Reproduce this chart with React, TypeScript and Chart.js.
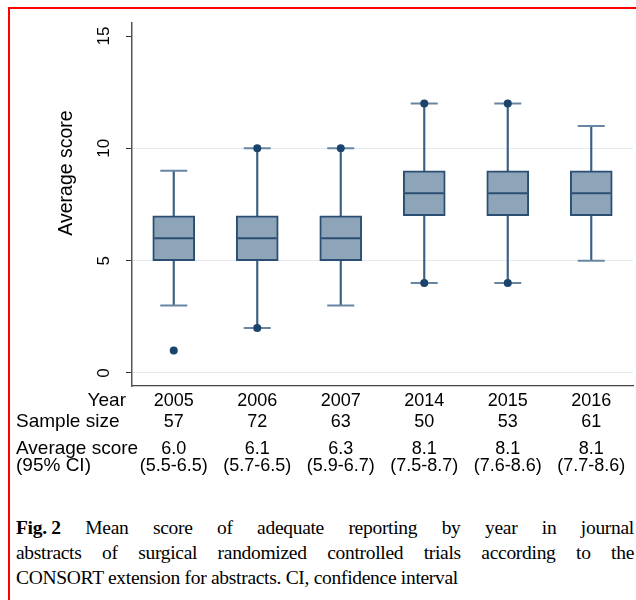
import React, { useEffect, useRef } from "react";
import { Chart, registerables } from "chart.js";

Chart.register(...registerables);

const years = ["2005", "2006", "2007", "2014", "2015", "2016"];
const whiskerLow = [3, 2, 3, 4, 4, 5];
const q1 = [5, 5, 5, 7, 7, 7];
const medians = [6, 6, 6, 8, 8, 8];
const q3 = [7, 7, 7, 9, 9, 9];
const whiskerHigh = [9, 10, 10, 12, 12, 11];
const outliersLow = [1, 2, null, 4, 4, null];
const outliersHigh = [null, 10, 10, 12, 12, null];
const sampleSizes = ["57", "72", "63", "50", "53", "61"];
const meanScores = ["6.0", "6.1", "6.3", "8.1", "8.1", "8.1"];
const ciLabels = ["(5.5-6.5)", "(5.7-6.5)", "(5.9-6.7)", "(7.5-8.7)", "(7.6-8.6)", "(7.7-8.6)"];
const yTicks = [0, 5, 10, 15];
const yTitle = "Average score";
const rowLabels = ["Year", "Sample size", "Average score", "(95% CI)"];

const SANS = '"Liberation Sans", Arial, sans-serif';

const textPlugin = {
  id: "textPlugin",
  afterDraw(chart: any) {
    const ctx = chart.ctx;
    const xs = chart.scales.x;
    const ys = chart.scales.y;
    ctx.save();
    ctx.fillStyle = "#000";
    ctx.font = `17px ${SANS}`;
    ctx.textAlign = "center";
    ctx.textBaseline = "middle";
    yTicks.forEach((v) => {
      const y = ys.getPixelForValue(v);
      ctx.save();
      ctx.translate(104, y);
      ctx.rotate(-Math.PI / 2);
      ctx.fillText(String(v), 0, 0);
      ctx.restore();
    });
    ctx.save();
    ctx.font = `19.5px ${SANS}`;
    ctx.translate(67, 173);
    ctx.rotate(-Math.PI / 2);
    ctx.fillText(yTitle, 0, 0);
    ctx.restore();
    ctx.font = `18px ${SANS}`;
    ctx.textAlign = "center";
    years.forEach((yr, i) => {
      const x = xs.getPixelForValue(i);
      ctx.fillText(yr, x, 401);
      ctx.fillText(sampleSizes[i], x, 422);
      ctx.fillText(meanScores[i], x, 449);
      ctx.fillText(ciLabels[i], x, 466);
    });
    ctx.font = `19px ${SANS}`;
    ctx.textAlign = "right";
    ctx.fillText(rowLabels[0], 126, 401);
    ctx.textAlign = "left";
    ctx.fillText(rowLabels[1], 16, 422);
    ctx.fillText(rowLabels[2], 16, 449);
    ctx.fillText(rowLabels[3], 16, 466);
    ctx.restore();
  },
};

function BoxChart() {
  const ref = useRef<HTMLCanvasElement>(null);
  useEffect(() => {
    if (!ref.current) return;
    const chart = new Chart(ref.current, {
      type: "bar",
      data: {
        labels: years,
        datasets: [
          {
            type: "bar",
            label: "whisker",
            data: years.map((_, i) => [whiskerLow[i], whiskerHigh[i]]) as any,
            backgroundColor: "#3a5f80",
            barThickness: 1.5,
            grouped: false,
            borderWidth: 0,
            order: 5,
          } as any,
          {
            type: "bar",
            label: "box",
            data: years.map((_, i) => [q1[i], q3[i]]) as any,
            backgroundColor: "#8ea5b9",
            borderColor: "#2b4f72",
            borderWidth: 2,
            borderSkipped: false,
            barThickness: 42,
            grouped: false,
            order: 4,
          } as any,
          {
            type: "line",
            label: "capsLow",
            data: whiskerLow,
            showLine: false,
            pointStyle: "line",
            pointRadius: 13.5,
            pointBorderWidth: 2,
            pointBorderColor: "#6786a2",
            order: 3,
          } as any,
          {
            type: "line",
            label: "capsHigh",
            data: whiskerHigh,
            showLine: false,
            pointStyle: "line",
            pointRadius: 13.5,
            pointBorderWidth: 2,
            pointBorderColor: "#6786a2",
            order: 3,
          } as any,
          {
            type: "line",
            label: "median",
            data: medians,
            showLine: false,
            pointStyle: "line",
            pointRadius: 19.5,
            pointBorderWidth: 2,
            pointBorderColor: "#2b4f72",
            order: 2,
          } as any,
          {
            type: "line",
            label: "outLow",
            data: outliersLow,
            showLine: false,
            pointStyle: "circle",
            pointRadius: 4,
            pointBorderWidth: 0,
            pointBackgroundColor: "#1a446b",
            order: 1,
          } as any,
          {
            type: "line",
            label: "outHigh",
            data: outliersHigh,
            showLine: false,
            pointStyle: "circle",
            pointRadius: 4,
            pointBorderWidth: 0,
            pointBackgroundColor: "#1a446b",
            order: 1,
          } as any,
        ],
      },
      options: {
        responsive: false,
        animation: false,
        devicePixelRatio: 1,
        layout: { autoPadding: false, padding: { left: 0, top: 23, right: 3, bottom: 0 } },
        plugins: { legend: { display: false }, tooltip: { enabled: false }, title: { display: false } },
        scales: {
          x: {
            type: "category",
            offset: true,
            grid: { display: false },
            ticks: { display: false },
            border: { display: true, color: "#444", width: 1.2 },
            afterFit: (s: any) => {
              s.height = 94;
            },
          },
          y: {
            min: -0.58,
            max: 15.58,
            afterBuildTicks: (s: any) => {
              s.ticks = yTicks.map((v) => ({ value: v }));
            },
            ticks: { display: false },
            grid: {
              color: (c: any) => (c.tick && c.tick.value === 15 ? "rgba(0,0,0,0)" : "#e3eaf1"),
              tickColor: "#333",
              tickLength: 6,
              lineWidth: 1,
              drawTicks: true,
            },
            border: { display: true, color: "#555", width: 1.5 },
            afterFit: (s: any) => {
              s.width = 132;
            },
          },
        },
      } as any,
      plugins: [textPlugin],
    });
    return () => chart.destroy();
  }, []);
  return <canvas ref={ref} width={636} height={480} style={{ position: "absolute", left: 0, top: 0, width: 636, height: 480 }} />;
}

const captionLead = "Fig. 2";
const captionLine1Rest = " Mean score of adequate reporting by year in journal";
const captionLine2 = "abstracts of surgical randomized controlled trials according to the";
const captionLine3 = "CONSORT extension for abstracts. CI, confidence interval";

export default function App() {
  const lineStyle: React.CSSProperties = {
    height: 25,
    lineHeight: "25px",
    whiteSpace: "nowrap",
  };
  const justified: React.CSSProperties = { ...lineStyle, textAlign: "justify", textAlignLast: "justify", whiteSpace: "normal" };
  return (
    <div style={{ position: "absolute", left: 0, top: 0, width: 636, height: 600, overflow: "hidden", background: "#fff" }}>
      <div
        style={{
          position: "absolute",
          left: 8,
          top: 7,
          width: 800,
          height: 800,
          borderTop: "2px solid #ff0000",
          borderLeft: "2px solid #ff0000",
        }}
      />
      <BoxChart />
      <div
        style={{
          position: "absolute",
          left: 16,
          top: 515,
          width: 618,
          fontFamily: '"Liberation Serif", "Times New Roman", serif',
          fontSize: 19.5,
          letterSpacing: "-0.3px",
          color: "#000",
        }}
      >
        <div style={justified}>
          <b style={{ display: "inline-block", whiteSpace: "nowrap" }}>{captionLead}</b>
          {captionLine1Rest}
        </div>
        <div style={justified}>{captionLine2}</div>
        <div style={lineStyle}>{captionLine3}</div>
      </div>
    </div>
  );
}
